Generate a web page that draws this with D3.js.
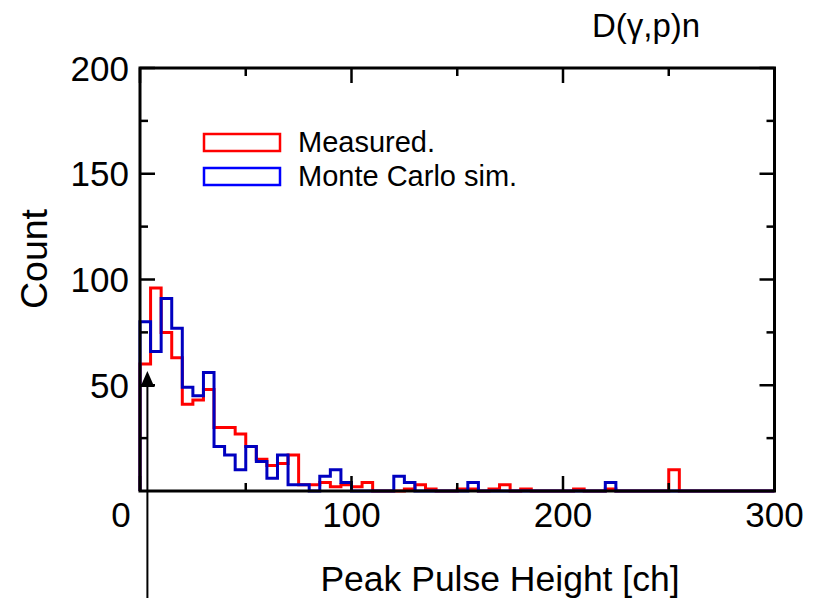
<!DOCTYPE html>
<html>
<head>
<meta charset="utf-8">
<script src="https://cdn.jsdelivr.net/npm/d3@7"></script>
<style>
  html, body { margin: 0; padding: 0; background: #fff; }
  svg { display: block; }
  text { font-family: "Liberation Sans", Arial, sans-serif; fill: #000; }
</style>
</head>
<body>
<svg id="chart" width="819" height="598"></svg>
<script>
// ---- data ----
const binWidth = 5;              // channel width of each histogram bin
const binStarts = d3.range(0, 300, 5);
const measured = [
  60, 96, 75, 63, 41, 43, 48, 30, 30, 27,
  21, 15, 12, 13, 17, 3, 3, 4, 2, 3,
  2, 4, 0, 0, 0, 1, 3, 1, 0, 0,
  1, 1, 0, 1, 3, 0, 1, 0, 0, 0,
  0, 1, 0, 0, 1, 0, 0, 0, 0, 0,
  10, 0, 0, 0, 0, 0, 0, 0, 0, 0
];
const monteCarlo = [
  80, 66, 91, 77, 49, 45, 56, 21, 17, 10,
  21, 14, 6, 17, 3, 3, 0, 7, 10, 4,
  0, 0, 0, 0, 7, 4, 0, 0, 0, 0,
  0, 4, 0, 0, 0, 0, 0, 0, 0, 0,
  0, 0, 0, 0, 4, 0, 0, 0, 0, 0,
  0, 0, 0, 0, 0, 0, 0, 0, 0, 0
];
const xMajorTicks = [0, 100, 200, 300];
const xMinorTicks = [50, 150, 250];
const yMajorTicks = [50, 100, 150, 200];
const yMinorTicks = [25, 75, 125, 175];
const yTickLabels = ["50", "100", "150", "200"];
const xTickLabels = ["0", "100", "200", "300"];
const seriesNames = ["Measured.", "Monte Carlo sim."];
const thresholdCh = 3.5;
const titleText = "D(\u03B3,p)n";
const xLabel = "Peak Pulse Height [ch]";
const yLabel = "Count";

// ---- layout ----
const svg = d3.select("#chart");
const L = 140, R = 774.5, T = 68, B = 491;
const x = d3.scaleLinear().domain([0, 300]).range([L, R]);
const y = d3.scaleLinear().domain([0, 200]).range([B, T]);

function stepPoints(vals) {
  const pts = [[0, 0]];
  vals.forEach((v, i) => {
    pts.push([binStarts[i], v]);
    pts.push([binStarts[i] + binWidth, v]);
  });
  pts.push([300, 0]);
  return pts;
}
const line = d3.line().x(d => x(d[0])).y(d => y(d[1]));

const series = [
  { name: seriesNames[0], vals: measured, color: "#ff0000", legendColor: "#ff0000" },
  { name: seriesNames[1], vals: monteCarlo, color: "#0000c0", legendColor: "#0000ff" }
];

series.forEach(s => {
  svg.append("path")
    .attr("d", line(stepPoints(s.vals)))
    .attr("fill", "none")
    .attr("stroke", s.color)
    .attr("stroke-width", 3)
    .attr("stroke-linejoin", "miter");
});

// ---- frame & ticks ----
const frame = svg.append("g").attr("stroke", "#000").attr("stroke-width", 3).attr("fill", "none");
frame.append("rect").attr("x", L).attr("y", T).attr("width", R - L).attr("height", B - T);

const tickG = svg.append("g").attr("stroke", "#000").attr("stroke-width", 2.5);
function xTicks(vals, len) {
  vals.forEach(v => {
    tickG.append("line").attr("x1", x(v)).attr("x2", x(v)).attr("y1", B).attr("y2", B - len);
    tickG.append("line").attr("x1", x(v)).attr("x2", x(v)).attr("y1", T).attr("y2", T + len);
  });
}
function yTicks(vals, len) {
  vals.forEach(v => {
    tickG.append("line").attr("x1", L).attr("x2", L + len).attr("y1", y(v)).attr("y2", y(v));
    tickG.append("line").attr("x1", R).attr("x2", R - len).attr("y1", y(v)).attr("y2", y(v));
  });
}
xTicks(xMajorTicks, 15);
xTicks(xMinorTicks, 8);
yTicks(yMajorTicks, 15);
yTicks(yMinorTicks, 8);

// tick labels
const tickFont = 35;
xMajorTicks.forEach((v, i) => {
  svg.append("text")
    .attr("x", v === 0 ? x(v) - 19 : x(v))
    .attr("y", 527)
    .attr("text-anchor", "middle")
    .attr("font-size", tickFont)
    .text(xTickLabels[i]);
});
yMajorTicks.forEach((v, i) => {
  svg.append("text")
    .attr("x", 129)
    .attr("y", y(v) + 12.5)
    .attr("text-anchor", "end")
    .attr("font-size", tickFont)
    .text(yTickLabels[i]);
});

// axis labels
svg.append("text")
  .attr("x", 500).attr("y", 591)
  .attr("text-anchor", "middle")
  .attr("font-size", 35.5)
  .text(xLabel);
svg.append("text")
  .attr("transform", "translate(47,259) rotate(-90)")
  .attr("text-anchor", "middle")
  .attr("font-size", 37.5)
  .text(yLabel);

// title
svg.append("text")
  .attr("x", 646).attr("y", 37)
  .attr("text-anchor", "middle")
  .attr("font-size", 33)
  .text(titleText);

// legend
series.forEach((s, i) => {
  const ly = 134 + i * 34;
  svg.append("rect")
    .attr("x", 204).attr("y", ly)
    .attr("width", 76).attr("height", 17)
    .attr("fill", "none")
    .attr("stroke", s.legendColor)
    .attr("stroke-width", 2.5);
  svg.append("text")
    .attr("x", 298).attr("y", ly + 18)
    .attr("font-size", 29)
    .text(s.name);
});

// threshold arrow
const ax = x(thresholdCh);
svg.append("line")
  .attr("x1", ax).attr("x2", ax)
  .attr("y1", 600).attr("y2", 384)
  .attr("stroke", "#000").attr("stroke-width", 2);
svg.append("path")
  .attr("d", `M${ax},371 L${ax - 7},387 L${ax + 7},387 Z`)
  .attr("fill", "#000");
</script>
</body>
</html>
